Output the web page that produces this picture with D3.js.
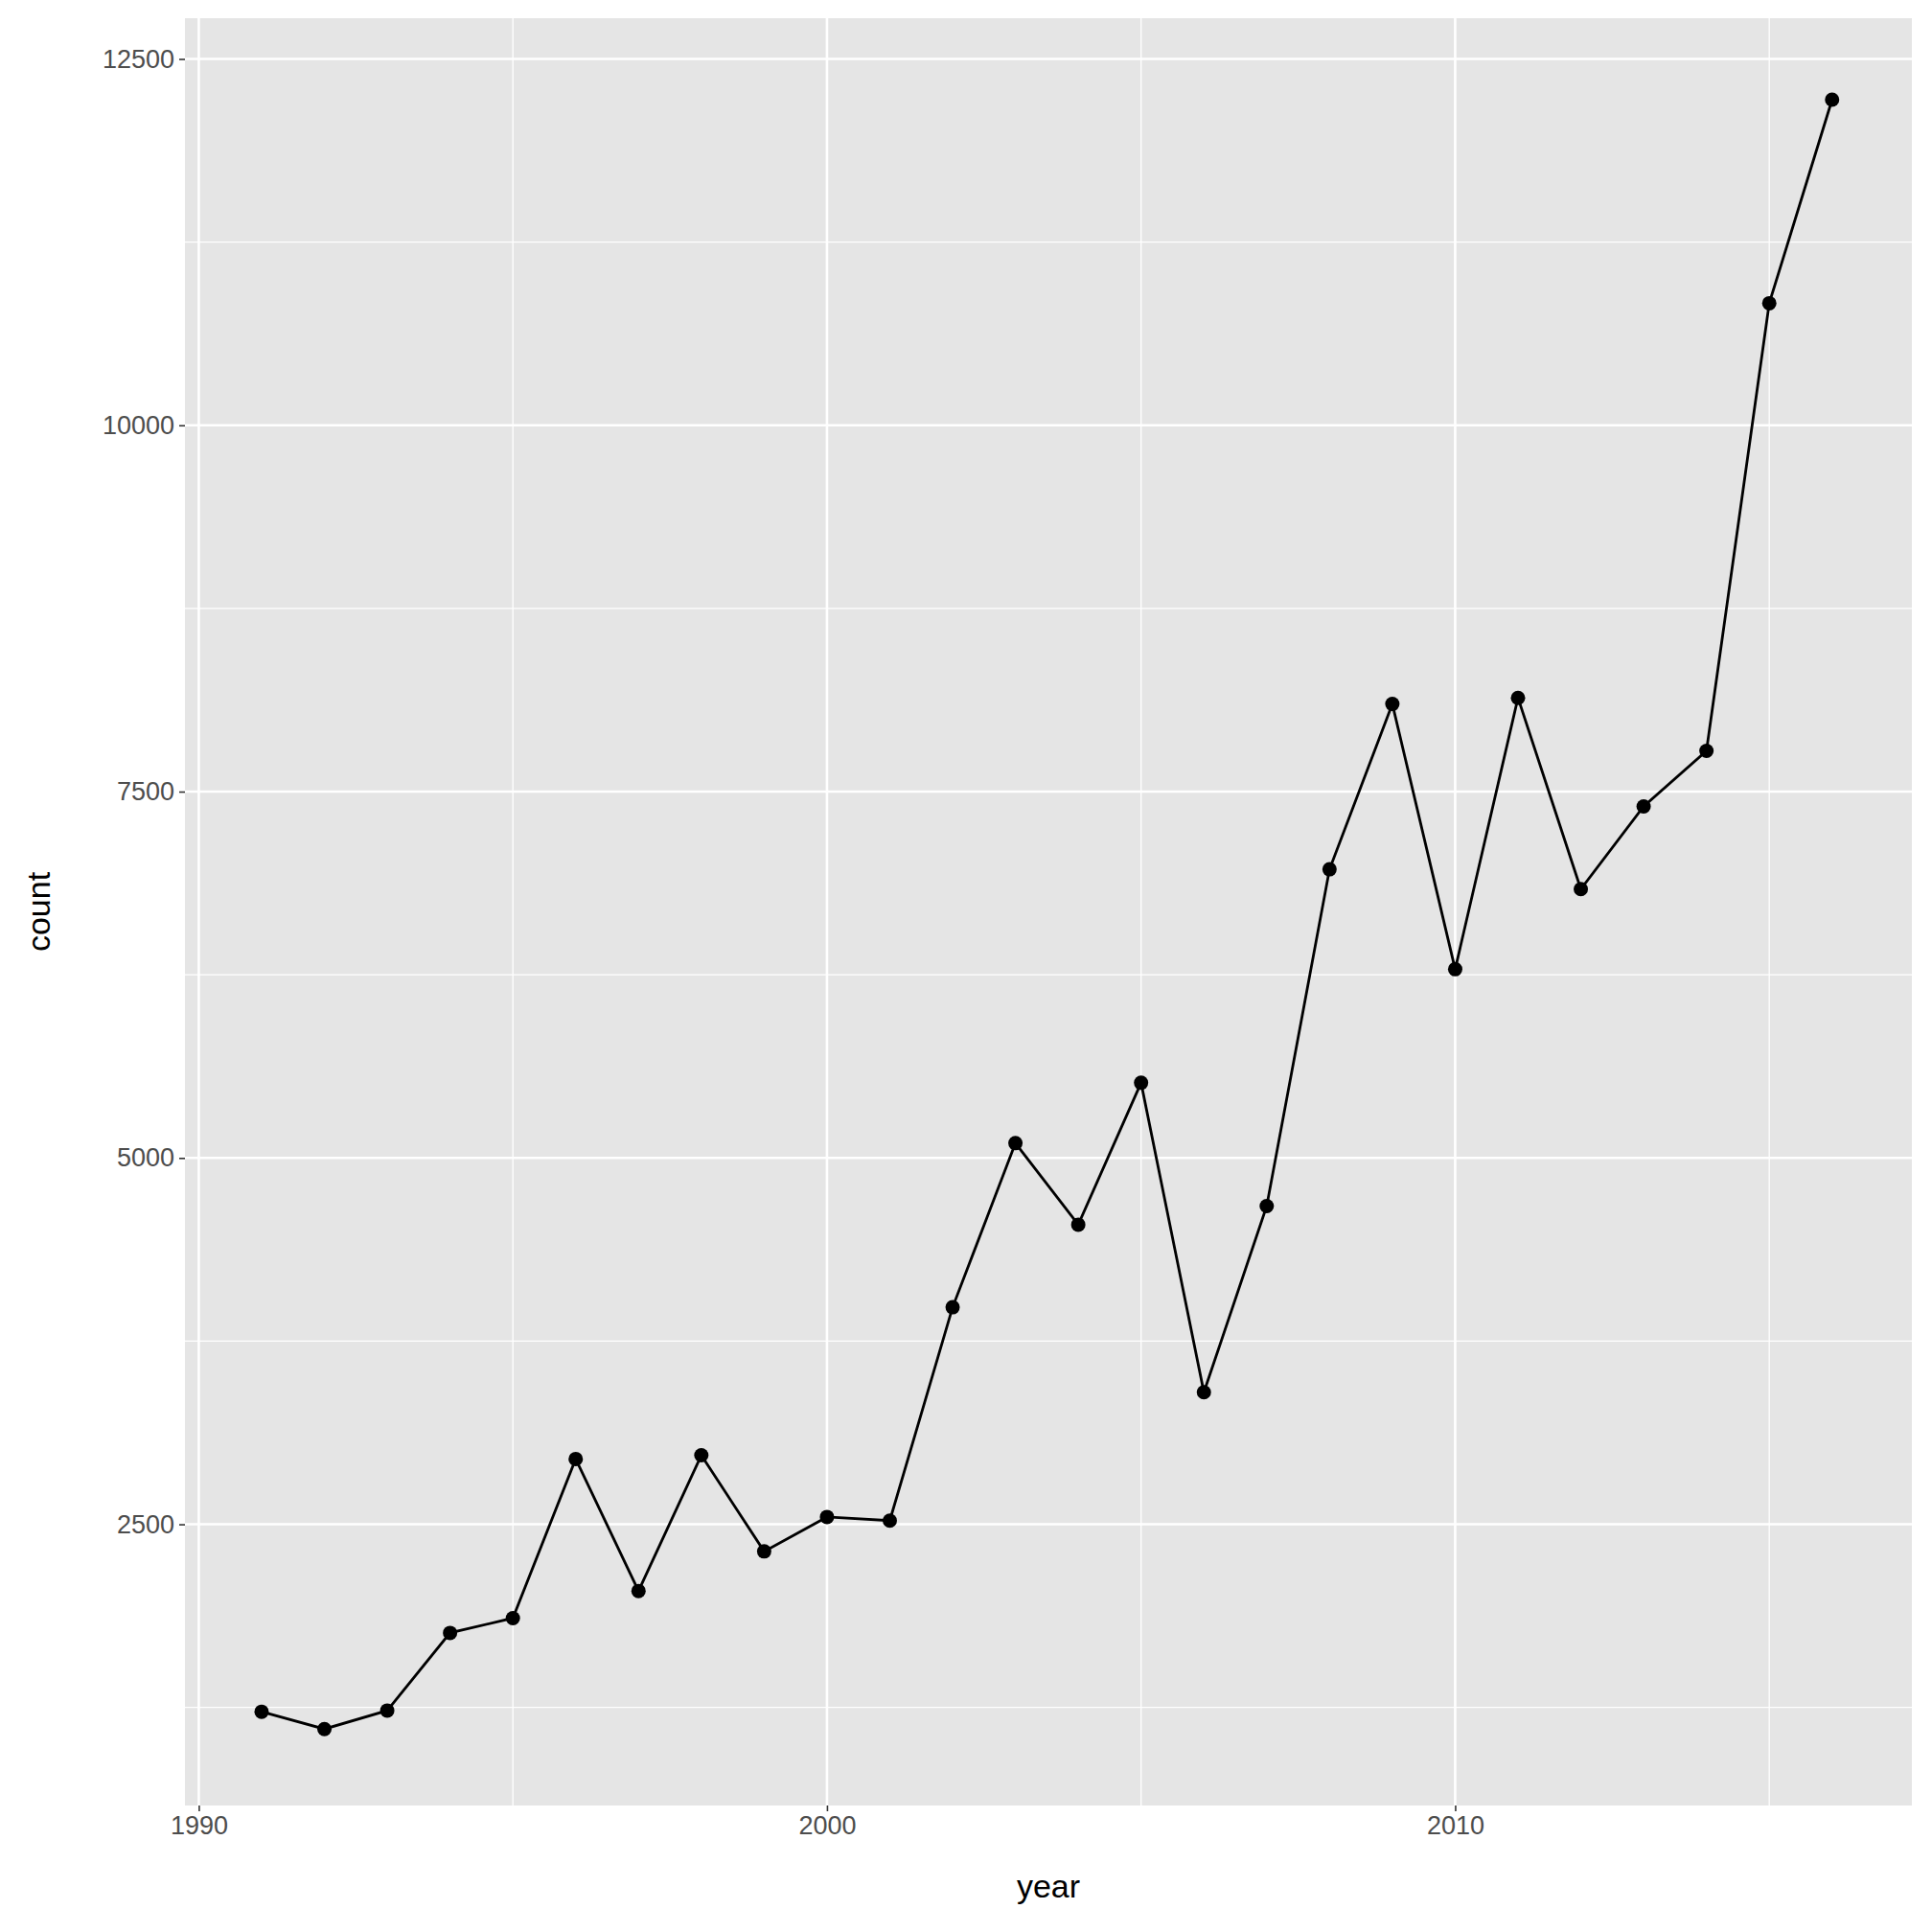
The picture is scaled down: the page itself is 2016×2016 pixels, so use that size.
<!DOCTYPE html>
<html><head><meta charset="utf-8">
<script src="https://cdn.jsdelivr.net/npm/d3@7"></script>
<style>body{margin:0;background:#fff}</style></head>
<body><svg id="c" width="2016" height="2016"></svg>
<script>
const years = [1991,1992,1993,1994,1995,1996,1997,1998,1999,2000,2001,2002,2003,2004,2005,2006,2007,2008,2009,2010,2011,2012,2013,2014,2015,2016];
const counts = [1221,1103,1229,1759,1860,2946,2045,2971,2315,2550,2525,3981,5101,4545,5513,3401,4672,6970,8098,6288,8140,6835,7399,7778,10833,12222];
const xTicks = [1990,2000,2010];
const xMinor = [1995,2005,2015];
const yTicks = [2500,5000,7500,10000,12500];
const yMinor = [1250,3750,6250,8750,11250];

const L=193,R=1995,T=19,B=1884;
const svg=d3.select("#c");
const x=d3.scaleLinear().domain([1989.78,2017.27]).range([L,R]);
const y=d3.scaleLinear().domain([581,12778]).range([B,T]);
svg.append("rect").attr("x",L).attr("y",T).attr("width",R-L).attr("height",B-T).attr("fill","#E5E5E5");
const g=svg.append("g");
xMinor.forEach(v=>g.append("line").attr("x1",x(v)).attr("x2",x(v)).attr("y1",T).attr("y2",B).attr("stroke","#fff").attr("stroke-width",1.3));
yMinor.forEach(v=>g.append("line").attr("y1",y(v)).attr("y2",y(v)).attr("x1",L).attr("x2",R).attr("stroke","#fff").attr("stroke-width",1.3));
xTicks.forEach(v=>g.append("line").attr("x1",x(v)).attr("x2",x(v)).attr("y1",T).attr("y2",B).attr("stroke","#fff").attr("stroke-width",2.6));
yTicks.forEach(v=>g.append("line").attr("y1",y(v)).attr("y2",y(v)).attr("x1",L).attr("x2",R).attr("stroke","#fff").attr("stroke-width",2.6));
const xa=svg.append("g").attr("transform",`translate(0,${B})`).call(d3.axisBottom(x).tickValues(xTicks).tickFormat(d3.format("d")).tickSize(6).tickPadding(5));
const ya=svg.append("g").attr("transform",`translate(${L},0)`).call(d3.axisLeft(y).tickValues(yTicks).tickFormat(d3.format("d")).tickSize(6).tickPadding(5));
[xa,ya].forEach(a=>{a.select(".domain").remove();a.selectAll("line").attr("stroke","#333").attr("stroke-width",1.6);
 a.selectAll("text").attr("font-family","Liberation Sans, Arial, sans-serif").attr("font-size",27).attr("fill","#4D4D4D");});
svg.append("path").datum(years.map((d,i)=>[d,counts[i]])).attr("fill","none").attr("stroke","#000").attr("stroke-width",2.8)
 .attr("d",d3.line().x(d=>x(d[0])).y(d=>y(d[1])));
svg.selectAll("circle.p").data(years).enter().append("circle").attr("cx",d=>x(d)).attr("cy",(d,i)=>y(counts[i])).attr("r",7.5).attr("fill","#000");
svg.append("text").attr("x",(L+R)/2).attr("y",1980).attr("text-anchor","middle").attr("font-family","Liberation Sans, Arial, sans-serif").attr("font-size",34).text("year");
svg.append("text").attr("transform",`translate(52,${(T+B)/2}) rotate(-90)`).attr("text-anchor","middle").attr("font-family","Liberation Sans, Arial, sans-serif").attr("font-size",34).text("count");
</script></body></html>
